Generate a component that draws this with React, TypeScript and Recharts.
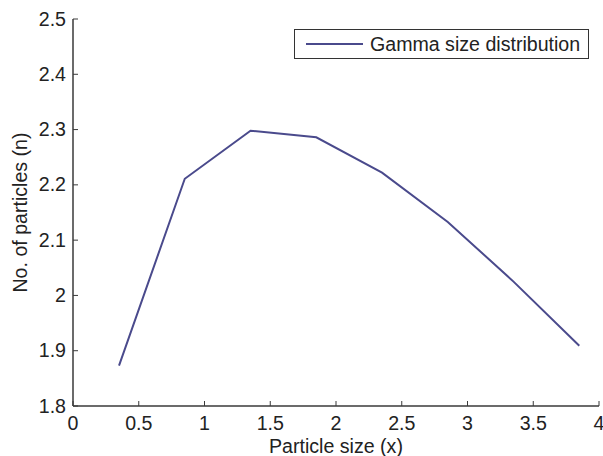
import React from 'react';
import { LineChart, Line, XAxis, YAxis, Legend, Label } from 'recharts';

const particleSize = [0.35, 0.85, 1.35, 1.85, 2.35, 2.85, 3.35, 3.85];
const particleCount = [1.873, 2.211, 2.298, 2.286, 2.222, 2.133, 2.025, 1.909];
const xTicks = [0, 0.5, 1, 1.5, 2, 2.5, 3, 3.5, 4];
const yTicks = [1.8, 1.9, 2, 2.1, 2.2, 2.3, 2.4, 2.5];
const seriesName = 'Gamma size distribution';

const data = particleSize.map((x, i) => ({ x, n: particleCount[i] }));

const AXIS = '#3a3a3a';
const TEXT = '#222';
const LINE = '#4a4a8c';
const FONT = 'Liberation Sans, Arial, Helvetica, sans-serif';
const FS = 19.6;

const fmt = (v: number) => String(v);

const BottomTick = (props: any) => {
  const { x, y, payload } = props;
  return (
    <g>
      <line x1={x} y1={y} x2={x} y2={y - 5} stroke={AXIS} strokeWidth={1} />
      <text x={x} y={y + 23.5} textAnchor="middle" fill={TEXT} fontSize={FS} fontFamily={FONT}>
        {fmt(payload.value)}
      </text>
    </g>
  );
};

const TopTick = (props: any) => {
  const { x, y } = props;
  return <line x1={x} y1={y} x2={x} y2={y + 5} stroke={AXIS} strokeWidth={1} />;
};

const LeftTick = (props: any) => {
  const { x, y, payload } = props;
  return (
    <g>
      <line x1={x} y1={y} x2={x + 5} y2={y} stroke={AXIS} strokeWidth={1} />
      <text x={x - 7} y={y + 6.5} textAnchor="end" fill={TEXT} fontSize={FS} fontFamily={FONT}>
        {fmt(payload.value)}
      </text>
    </g>
  );
};

const RightTick = (props: any) => {
  const { x, y } = props;
  return <line x1={x} y1={y} x2={x - 5} y2={y} stroke={AXIS} strokeWidth={1} />;
};

const LegendBox = () => (
  <div
    style={{
      width: 295,
      height: 30,
      boxSizing: 'border-box',
      border: '1px solid #333',
      background: '#fff',
      display: 'flex',
      alignItems: 'center',
      fontFamily: FONT,
      fontSize: FS,
      color: TEXT,
    }}
  >
    <svg width={70} height={28} style={{ display: 'block' }}>
      <line x1={11} y1={14} x2={68} y2={14} stroke={LINE} strokeWidth={2} />
    </svg>
    <span style={{ marginLeft: 5, whiteSpace: 'nowrap' }}>{seriesName}</span>
  </div>
);

export default function App() {
  return (
    <div style={{ position: 'absolute', left: 0, top: 0, background: '#fff' }}>
      <LineChart
        width={603}
        height={456}
        data={data}
        margin={{ top: 19, right: 4, left: 0, bottom: 0 }}
      >
        <XAxis
          xAxisId="b"
          dataKey="x"
          type="number"
          domain={[0, 4]}
          ticks={xTicks}
          interval={0}
          height={50}
          tickSize={0}
          tickMargin={0}
          tickLine={false}
          axisLine={{ stroke: AXIS, strokeWidth: 1.5 }}
          tick={<BottomTick />}
        >
          <Label
            content={(p: any) => {
              const vb = p.viewBox;
              return (
                <text
                  x={vb.x + vb.width / 2}
                  y={vb.y + 46.5}
                  textAnchor="middle"
                  fill={TEXT}
                  fontSize={FS}
                  fontFamily={FONT}
                >
                  Particle size (x)
                </text>
              );
            }}
          />
        </XAxis>
        <XAxis
          xAxisId="t"
          dataKey="x"
          type="number"
          orientation="top"
          domain={[0, 4]}
          ticks={xTicks}
          interval={0}
          height={0}
          tickSize={0}
          tickMargin={0}
          tickLine={false}
          axisLine={{ stroke: AXIS, strokeWidth: 1.5 }}
          tick={<TopTick />}
        />
        <YAxis
          yAxisId="l"
          type="number"
          domain={[1.8, 2.5]}
          ticks={yTicks}
          interval={0}
          width={73}
          tickSize={0}
          tickMargin={0}
          tickLine={false}
          axisLine={{ stroke: AXIS, strokeWidth: 1.5 }}
          tick={<LeftTick />}
        >
          <Label
            content={(p: any) => {
              const vb = p.viewBox;
              const cy = vb.y + vb.height / 2;
              return (
                <text
                  transform={`translate(27, ${cy}) rotate(-90)`}
                  textAnchor="middle"
                  fill={TEXT}
                  fontSize={FS}
                  fontFamily={FONT}
                >
                  No. of particles (n)
                </text>
              );
            }}
          />
        </YAxis>
        <YAxis
          yAxisId="r"
          type="number"
          orientation="right"
          domain={[1.8, 2.5]}
          ticks={yTicks}
          interval={0}
          width={0}
          tickSize={0}
          tickMargin={0}
          tickLine={false}
          axisLine={{ stroke: AXIS, strokeWidth: 1.5 }}
          tick={<RightTick />}
        />
        <Legend
          content={<LegendBox />}
          wrapperStyle={{ position: 'absolute', left: 294, top: 29, width: 295, height: 0, overflow: 'visible' }}
        />
        <Line
          xAxisId="b"
          yAxisId="l"
          type="linear"
          dataKey="n"
          name={seriesName}
          stroke={LINE}
          strokeWidth={2}
          dot={false}
          isAnimationActive={false}
        />
      </LineChart>
    </div>
  );
}
